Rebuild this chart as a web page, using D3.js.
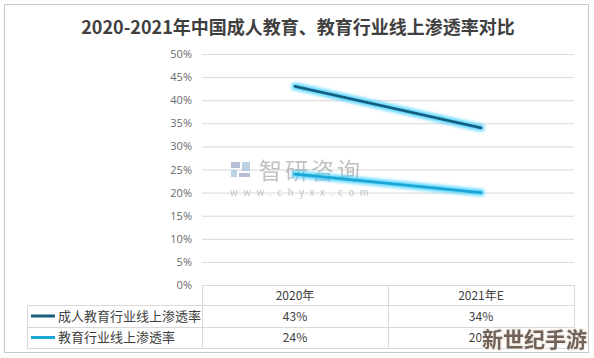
<!DOCTYPE html>
<html><head><meta charset="utf-8">
<script src="https://cdn.jsdelivr.net/npm/d3@7"></script>
<style>body{margin:0;background:#fff;}svg{display:block;font-family:"Noto Sans CJK SC","Noto Sans",sans-serif;}</style>
</head><body><svg id="c" width="594" height="358"></svg>
<script>
const title = "2020-2021年中国成人教育、教育行业线上渗透率对比";
const categories = ["2020年", "2021年E"];
const seriesNames = ["成人教育行业线上渗透率", "教育行业线上渗透率"];
const adultValues = [43, 34];
const eduValues = [24, 20];
const yTicks = [0, 5, 10, 15, 20, 25, 30, 35, 40, 45, 50];
const colors = ["#175e7c", "#1ba6d6"];

const series = [
  {name: seriesNames[0], values: adultValues, color: colors[0]},
  {name: seriesNames[1], values: eduValues, color: colors[1]}
];

const svg = d3.select("#c");
const L = 202, R = 574, T = 54, B = 285;
const x = d3.scaleBand().domain(categories).range([L, R]);
const y = d3.scaleLinear().domain([0, 50]).range([B, T]);

svg.append("rect").attr("x", 4.5).attr("y", 4.5).attr("width", 584).attr("height", 348)
  .attr("fill", "#fff").attr("stroke", "#c8c8c8").attr("stroke-width", 1);

svg.append("text").attr("x", 298).attr("y", 34).attr("text-anchor", "middle")
  .attr("font-size", 18).attr("font-weight", "bold").attr("fill", "#404040").text(title);

const yAxis = d3.axisLeft(y).tickValues(yTicks).tickSize(-(R - L)).tickFormat(d => d + "%");
const gy = svg.append("g").attr("transform", `translate(${L},0)`).call(yAxis);
gy.select(".domain").remove();
gy.selectAll(".tick line").attr("stroke", "#d9d9d9");
gy.selectAll(".tick text").attr("x", -10).attr("fill", "#6a6a6a").attr("font-size", 11)
  .attr("font-family", "'Open Sans','Noto Sans',sans-serif");
gy.selectAll(".tick").filter(d => d === 0).select("line").remove();

// watermark
const wm = svg.append("g").attr("opacity", 0.6);
wm.append("rect").attr("x", 231).attr("y", 162).attr("width", 9).attr("height", 6).attr("fill", "#8a94b8");
wm.append("rect").attr("x", 242).attr("y", 162).attr("width", 8).attr("height", 9).attr("fill", "#8fb4d6");
wm.append("rect").attr("x", 231).attr("y", 170).attr("width", 6).attr("height", 7).attr("fill", "#8fb4d6");
wm.append("rect").attr("x", 239).attr("y", 173).attr("width", 11).attr("height", 4).attr("fill", "#8a94b8");
wm.append("text").attr("x", 259).attr("y", 179).attr("font-size", 23).attr("fill", "#999")
  .attr("letter-spacing", 3).text("智研咨询");
wm.append("text").attr("x", 230).attr("y", 196).attr("font-size", 9.5).attr("fill", "#999")
  .attr("letter-spacing", 5.6).text("www.chyxx.com");

const defs = svg.append("defs");
const f = defs.append("filter").attr("id", "glow").attr("x", "-20%").attr("y", "-200%").attr("width", "140%").attr("height", "500%");
f.append("feMorphology").attr("in", "SourceAlpha").attr("operator", "dilate").attr("radius", 1.5).attr("result", "d");
f.append("feGaussianBlur").attr("in", "d").attr("stdDeviation", 1.8).attr("result", "b");
f.append("feFlood").attr("flood-color", "#33ccff").attr("flood-opacity", 0.75);
f.append("feComposite").attr("in2", "b").attr("operator", "in").attr("result", "g");
const fm = f.append("feMerge");
fm.append("feMergeNode").attr("in", "g");
fm.append("feMergeNode").attr("in", "SourceGraphic");

const line = d3.line().x((d, i) => x(categories[i]) + x.bandwidth() / 2).y(d => y(d));
series.forEach(s => {
  svg.append("path").datum(s.values).attr("d", line).attr("fill", "none")
    .attr("stroke", s.color).attr("stroke-width", 2.8).attr("stroke-linecap", "round")
    .attr("filter", "url(#glow)");
});

const tL = 27, rowH = [285, 305, 327, 348];
const tg = svg.append("g").attr("stroke", "#d9d9d9").attr("stroke-width", 1).attr("fill", "none");
tg.append("line").attr("x1", L).attr("x2", R).attr("y1", rowH[0] + 0.5).attr("y2", rowH[0] + 0.5);
[1, 2, 3].forEach(i => tg.append("line").attr("x1", tL).attr("x2", R).attr("y1", rowH[i] + 0.5).attr("y2", rowH[i] + 0.5));
tg.append("line").attr("x1", tL + 0.5).attr("x2", tL + 0.5).attr("y1", rowH[1]).attr("y2", rowH[3]);
[L, L + x.bandwidth(), R].forEach(v => tg.append("line").attr("x1", v + 0.5).attr("x2", v + 0.5).attr("y1", rowH[0]).attr("y2", rowH[3]));

categories.forEach(c => {
  svg.append("text").attr("x", x(c) + x.bandwidth() / 2).attr("y", (rowH[0] + rowH[1]) / 2 + 4.5)
    .attr("text-anchor", "middle").attr("font-size", 12).attr("fill", "#404040").text(c);
});
series.forEach((s, si) => {
  const cy = (rowH[si + 1] + rowH[si + 2]) / 2;
  svg.append("line").attr("x1", 31).attr("x2", 55).attr("y1", cy).attr("y2", cy)
    .attr("stroke", s.color).attr("stroke-width", 3);
  svg.append("text").attr("x", 58).attr("y", cy + 4.5).attr("font-size", 13).attr("fill", "#404040").text(s.name);
  s.values.forEach((v, i) => {
    svg.append("text").attr("x", x(categories[i]) + x.bandwidth() / 2).attr("y", cy + 4.5)
      .attr("text-anchor", "middle").attr("font-size", 12).attr("fill", "#404040").text(v + "%");
  });
});

svg.append("text").attr("x", 587).attr("y", 347).attr("text-anchor", "end")
  .attr("font-size", 21).attr("font-weight", "bold").attr("fill", "#6a5a52")
  .attr("stroke", "#f3efe8").attr("stroke-width", 2.5).attr("paint-order", "stroke")
  .attr("opacity", 0.95).text("新世纪手游");
</script></body></html>
